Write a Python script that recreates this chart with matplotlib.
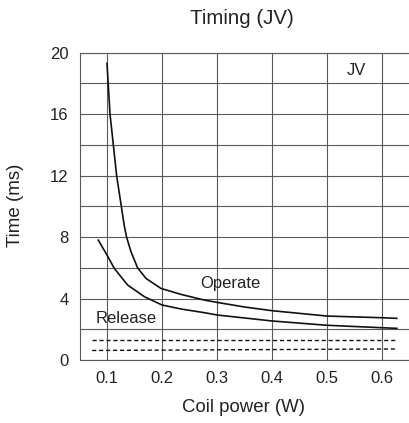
import matplotlib
matplotlib.use("Agg")
import matplotlib.pyplot as plt
import numpy as np

plt.rcParams['font.family'] = ['Liberation Sans', 'DejaVu Sans']

# curves
operate_x = [0.100, 0.1055, 0.1175, 0.1316, 0.1356, 0.1436, 0.1556, 0.1709, 0.198, 0.2345, 0.277, 0.3, 0.35, 0.4, 0.5, 0.6, 0.627]
operate_y = [19.3, 16.0, 12.0, 8.7, 8.0, 7.05, 6.0, 5.31, 4.66, 4.27, 3.9, 3.75, 3.45, 3.21, 2.86, 2.75, 2.71]

release_x = [0.0842, 0.1, 0.1133, 0.1375, 0.168, 0.2, 0.2345, 0.277, 0.3, 0.4, 0.5, 0.6, 0.627]
release_y = [7.8, 6.83, 5.96, 4.88, 4.12, 3.58, 3.32, 3.08, 2.93, 2.54, 2.26, 2.10, 2.06]

dash_x = [0.073, 0.628]
dash_upper = [1.30, 1.30]
dash_lower = [0.62, 0.72]

x_ticks = [0.1, 0.2, 0.3, 0.4, 0.5, 0.6]
y_ticks = [0, 4, 8, 12, 16, 20]
y_minor = [2, 6, 10, 14, 18]

fig = plt.figure(figsize=(4.09, 4.23), dpi=100)
ax = fig.add_axes([79.5/409, 63/423, 332/409, 307.3/423])

grid_c = '#5a5a5a'
ax.set_xlim(0.05, 0.05 + 332/550)
ax.set_ylim(0, 20)
ax.set_xticks(x_ticks)
ax.set_xticklabels([f"{v:.1f}" for v in x_ticks])
ax.set_yticks(y_ticks)
ax.set_yticks(y_minor, minor=True)
ax.grid(True, which='both', color=grid_c, lw=0.8)
ax.tick_params(which='both', length=0, labelsize=12, pad=8, colors='#222222')
for s in ax.spines.values():
    s.set_color(grid_c)
    s.set_linewidth(0.8)

ax.plot(operate_x, operate_y, color='#111111', lw=1.2)
ax.plot(release_x, release_y, color='#111111', lw=1.2)
ax.plot(dash_x, dash_upper, color='#111111', lw=1.0, ls=(0, (3, 2)))
ax.plot(dash_x, dash_lower, color='#111111', lw=1.0, ls=(0, (3, 2)))

ax.text(0.3236, 4.99, "Operate", fontsize=12, ha='center', va='center', color='#222222')
ax.text(0.1347, 2.71, "Release", fontsize=12, ha='center', va='center', color='#222222')
ax.text(0.5527, 18.87, "JV", fontsize=12, ha='center', va='center', color='#222222')

fig.text(242/409, 1 - 18/423, "Timing (JV)", fontsize=14.8, ha='center', va='center', color='#222222')
fig.text(243/409, 1 - 407/423, "Coil power (W)", fontsize=13.4, ha='center', va='center', color='#222222')
fig.text(16/409, 1 - 205/423, "Time (ms)", fontsize=13.5, ha='center', va='center', rotation=90, color='#222222')

fig.savefig("out.png", dpi=100)
